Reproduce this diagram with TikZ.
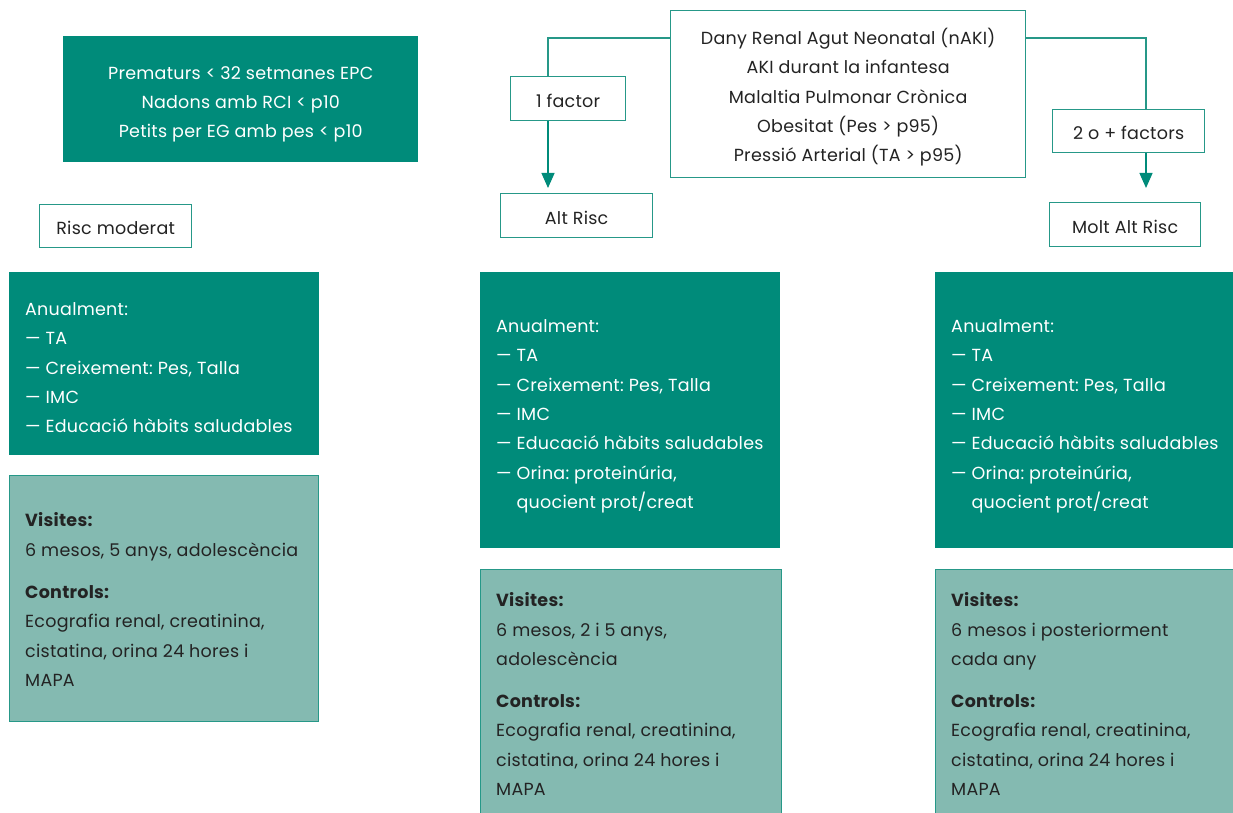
\documentclass[tikz,border=0pt]{standalone}
\usepackage{fontspec}
\setmainfont{Poppins}[LetterSpace=1.5]
\usetikzlibrary{arrows.meta,calc}
\definecolor{tealdark}{RGB}{0,139,122}
\definecolor{tealpale}{RGB}{132,186,177}
\definecolor{tealline}{RGB}{38,152,136}
\definecolor{ink}{RGB}{35,35,35}
\tikzset{
  txt/.style={font=\fontsize{17.5}{29.3}\selectfont\frenchspacing, inner sep=0pt},
  bodytext/.style={txt, anchor=west, align=left},
  darkbox/.style={rectangle, fill=tealdark, anchor=north west, inner sep=0pt},
  palebox/.style={rectangle, fill=tealpale, draw=tealline, line width=1.3pt,
    anchor=north west, inner sep=0pt},
  framebox/.style={rectangle, fill=white, draw=tealline, line width=1.3pt,
    anchor=north west, inner sep=0pt},
  tagbox/.style={framebox, txt, text=ink, text height=17pt, text depth=0pt},
  conn/.style={draw=tealline, line width=1.3pt},
  arrowc/.style={conn, -{Triangle[width=13pt,length=15pt]}, draw=tealdark, fill=tealdark}
}
\begin{document}
\begin{tikzpicture}[x=1pt,y=-1pt]
\useasboundingbox (0,0) rectangle (1233,813);
\clip (0,0) rectangle (1233,813);

% criteria boxes
\node[darkbox, minimum width=355pt, minimum height=126pt] (crit) at (63,36) {};
\node[txt, align=center, text=white] (critT) at ($(crit.center)+(0,5)$)
  {Prematurs < 32 setmanes EPC\\Nadons amb RCI < p10\\Petits per EG amb pes < p10};
\node[framebox, minimum width=355pt, minimum height=167pt] (risk) at (670,10) {};
\node[txt, align=center, text=ink] (riskT) at ($(risk.center)+(0,3)$)
  {Dany Renal Agut Neonatal (nAKI)\\AKI durant la infantesa\\Malaltia Pulmonar Crònica\\Obesitat (Pes > p95)\\Pressió Arterial (TA > p95)};

% factor labels and risk levels
\node[tagbox, minimum width=115pt, minimum height=44pt] (f1) at (510,76) {1 factor};
\node[tagbox, minimum width=152pt, minimum height=43pt] (f2) at (1052,109) {2 o + factors};
\node[tagbox, minimum width=152pt, minimum height=43pt] (mod) at (39,204) {Risc moderat};
\node[tagbox, minimum width=152pt, minimum height=44pt] (alt) at (500,193) {Alt Risc};
\node[tagbox, minimum width=151pt, minimum height=44pt] (molt) at (1049,202) {Molt Alt Risc};

% connectors
\coordinate (jl) at (548,38);
\coordinate (jr) at (1146,38);
\draw[conn] (risk.west |- jl) -- (jl) -- (jl |- f1.north);
\draw[arrowc, shorten >=5pt] (jl |- f1.south) -- (jl |- alt.north);
\draw[conn] (risk.east |- jr) -- (jr) -- (jr |- f2.north);
\draw[arrowc, shorten >=14pt] (jr |- f2.south) -- (jr |- molt.north);

% yearly checks
\node[darkbox, minimum width=310pt, minimum height=183pt] (an1) at (9,272) {};
\node[bodytext, text=white] (an1T) at ($(an1.west)+(16,4)$)
  {Anualment:\\— TA\\— Creixement: Pes, Talla\\— IMC\\— Educació hàbits saludables};
\node[darkbox, minimum width=300pt, minimum height=276pt] (an2) at (480,272) {};
\node[bodytext, text=white] (an2T) at ($(an2.west)+(16,6)$)
  {Anualment:\\— TA\\— Creixement: Pes, Talla\\— IMC\\— Educació hàbits saludables\\— Orina: proteinúria,\\\hphantom{— }quocient prot/creat};
\node[darkbox, minimum width=300pt, minimum height=276pt] (an3) at (935,272) {};
\node[bodytext, text=white] (an3T) at ($(an3.west)+(16,6)$)
  {Anualment:\\— TA\\— Creixement: Pes, Talla\\— IMC\\— Educació hàbits saludables\\— Orina: proteinúria,\\\hphantom{— }quocient prot/creat};

% visits and controls
\node[palebox, minimum width=309pt, minimum height=246pt] (vc1) at (9,475) {};
\node[bodytext, text=ink] (vc1T) at ($(vc1.west)+(16,1)$)
  {\textbf{Visites:}\\6 mesos, 5 anys, adolescència\\[13pt]\textbf{Controls:}\\Ecografia renal, creatinina,\\cistatina, orina 24 hores i\\MAPA};
\node[palebox, minimum width=301pt, minimum height=252pt] (vc2) at (480,569) {};
\node[bodytext, text=ink] (vc2T) at ($(vc2.west)+(16,-1.5)$)
  {\textbf{Visites:}\\6 mesos, 2 i 5 anys,\\adolescència\\[13pt]\textbf{Controls:}\\Ecografia renal, creatinina,\\cistatina, orina 24 hores i\\MAPA};
\node[palebox, minimum width=300pt, minimum height=252pt] (vc3) at (935,569) {};
\node[bodytext, text=ink] (vc3T) at ($(vc3.west)+(16,-1.5)$)
  {\textbf{Visites:}\\6 mesos i posteriorment\\cada any\\[13pt]\textbf{Controls:}\\Ecografia renal, creatinina,\\cistatina, orina 24 hores i\\MAPA};
\end{tikzpicture}
\end{document}
